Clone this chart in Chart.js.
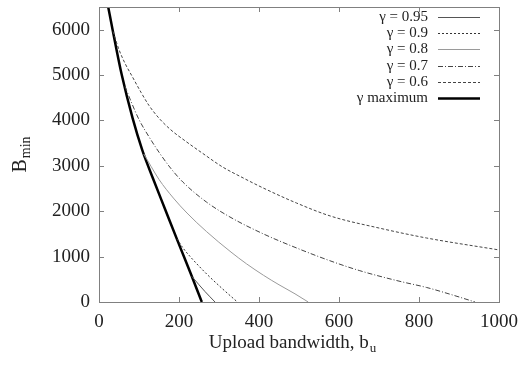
<!DOCTYPE html>
<html>
<head>
<meta charset="utf-8">
<script src="https://cdn.jsdelivr.net/npm/chart.js@4"></script>
<style>
  body { margin: 0; background: #fff; }
  canvas { display: block; }
</style>
</head>
<body>
<canvas id="bmin_chart" width="521" height="367"></canvas>
<script>
// upload bandwidth b_u (x) and B_min (y) for each gamma curve
const bu_max = [23, 34, 57, 84, 108, 135, 165, 200, 230, 257];
const bmin_max = [6500, 6000, 5000, 4050, 3350, 2720, 2050, 1270, 610, 0];

const bu_095 = [232, 250, 265, 290];
const bmin_095 = [564, 380, 230, 0];

const bu_09 = [195, 210, 230, 250, 270, 310, 346];
const bmin_09 = [1390, 1190, 980, 790, 610, 280, 0];

const bu_08 = [112, 130, 150, 186, 220, 269, 330, 369, 411, 450, 490, 523];
const bmin_08 = [3260, 2990, 2700, 2290, 1960, 1550, 1100, 840, 590, 380, 180, 0];

const bu_07 = [65, 80, 100, 125, 150, 179, 210, 269, 330, 411, 494, 577, 652, 750, 819, 880, 940];
const bmin_07 = [4750, 4420, 4020, 3640, 3300, 2950, 2640, 2200, 1860, 1500, 1190, 910, 690, 460, 320, 165, 0];

const bu_06 = [35, 50, 65, 83, 105, 125, 150, 180, 217, 260, 308, 360, 411, 494, 580, 700, 819, 1000];
const bmin_06 = [5960, 5560, 5260, 4970, 4620, 4330, 4050, 3790, 3540, 3270, 2980, 2735, 2510, 2180, 1890, 1630, 1410, 1147];

const x_ticks = [0, 200, 400, 600, 800, 1000];
const y_ticks = [0, 1000, 2000, 3000, 4000, 5000, 6000];

const serif = '"Liberation Serif", "DejaVu Serif", serif';

function pts(xs, ys) {
    return xs.map((x, i) => ({x: x, y: ys[i]}));
}

function curve(label, xs, ys, color, width, dash) {
    return {
        label: label,
        data: pts(xs, ys),
        borderColor: color,
        borderWidth: width,
        borderDash: dash,
        pointRadius: 0,
        fill: false,
        cubicInterpolationMode: 'monotone'
    };
}

// frame with inward ticks on all four sides
const framePlugin = {
    id: 'frame',
    afterDatasetsDraw(chart) {
        const ctx = chart.ctx;
        const a = chart.chartArea;
        const xs = chart.scales.x, ys = chart.scales.y;
        ctx.save();
        ctx.strokeStyle = '#808080';
        ctx.lineWidth = 1;
        ctx.strokeRect(a.left + 0.5, a.top + 0.5, a.right - a.left, a.bottom - a.top);
        ctx.beginPath();
        x_ticks.forEach(v => {
            const px = Math.round(xs.getPixelForValue(v)) + 0.5;
            ctx.moveTo(px, a.bottom); ctx.lineTo(px, a.bottom - 5);
            ctx.moveTo(px, a.top); ctx.lineTo(px, a.top + 5);
        });
        y_ticks.forEach(v => {
            const py = Math.round(ys.getPixelForValue(v)) + 0.5;
            ctx.moveTo(a.left, py); ctx.lineTo(a.left + 5, py);
            ctx.moveTo(a.right, py); ctx.lineTo(a.right - 5, py);
        });
        ctx.stroke();

        // axis titles with subscripts
        ctx.fillStyle = '#222';
        ctx.textBaseline = 'alphabetic';
        const main = 'Upload bandwidth, b';
        ctx.font = '19px ' + serif;
        const w1 = ctx.measureText(main).width;
        ctx.font = '13px ' + serif;
        const w2 = ctx.measureText('u').width;
        const x0 = 292 - (w1 + w2) / 2;
        ctx.font = '19px ' + serif;
        ctx.textAlign = 'left';
        ctx.fillText(main, x0, 348);
        ctx.font = '13px ' + serif;
        ctx.fillText('u', x0 + w1 + 1, 352);

        ctx.translate(26, 155);
        ctx.rotate(-Math.PI / 2);
        ctx.font = '20px ' + serif;
        const wb = ctx.measureText('B').width;
        ctx.font = '14px ' + serif;
        const wm = ctx.measureText('min').width;
        const s = -(wb + wm) / 2;
        ctx.font = '20px ' + serif;
        ctx.fillText('B', s, 0);
        ctx.font = '14px ' + serif;
        ctx.fillText('min', s + wb + 1, 4);
        ctx.restore();
    }
};

// legend: right aligned label then a line sample
const keyPlugin = {
    id: 'key',
    afterDatasetsDraw(chart) {
        const ctx = chart.ctx;
        ctx.save();
        ctx.font = '15px ' + serif;
        ctx.fillStyle = '#222';
        ctx.textAlign = 'right';
        ctx.textBaseline = 'middle';
        chart.data.datasets.forEach((ds, i) => {
            const y = 17 + i * 16.2;
            ctx.fillText(ds.label, 428, y);
            ctx.beginPath();
            ctx.strokeStyle = ds.borderColor;
            ctx.lineWidth = ds.borderWidth;
            ctx.setLineDash(ds.borderDash || []);
            ctx.moveTo(438, Math.round(y) + 0.5);
            ctx.lineTo(480, Math.round(y) + 0.5);
            ctx.stroke();
        });
        ctx.restore();
    }
};

new Chart(document.getElementById('bmin_chart'), {
    type: 'line',
    data: {
        datasets: [
            curve('γ = 0.95', bu_095, bmin_095, '#555', 1, []),
            curve('γ = 0.9', bu_09, bmin_09, '#333', 1, [2, 2]),
            curve('γ = 0.8', bu_08, bmin_08, '#9a9a9a', 1, []),
            curve('γ = 0.7', bu_07, bmin_07, '#444', 1, [5, 2, 1, 2]),
            curve('γ = 0.6', bu_06, bmin_06, '#444', 1, [3, 2]),
            curve('γ maximum', bu_max, bmin_max, '#000', 2.5, [])
        ]
    },
    options: {
        responsive: false,
        animation: false,
        layout: { padding: { top: 7, right: 22, left: 0, bottom: 0 } },
        plugins: { legend: { display: false }, tooltip: { enabled: false } },
        scales: {
            x: {
                type: 'linear',
                min: 0,
                max: 1000,
                grid: { display: false, drawTicks: false },
                border: { display: false },
                ticks: {
                    stepSize: 200, color: '#222', padding: 9,
                    font: { family: serif, size: 19 },
                    callback: v => String(v)
                },
                afterFit(scale) {
                    scale.height = 65;
                    scale.paddingLeft = 0;
                    scale.paddingRight = 0;
                }
            },
            y: {
                type: 'linear',
                min: 0,
                max: 6500,
                grid: { display: false, drawTicks: false },
                border: { display: false },
                ticks: {
                    color: '#222', padding: 9,
                    font: { family: serif, size: 19 },
                    callback: v => String(v)
                },
                afterBuildTicks(scale) {
                    scale.ticks = y_ticks.map(v => ({ value: v }));
                },
                afterFit(scale) {
                    scale.width = 99;
                    scale.paddingTop = 0;
                    scale.paddingBottom = 0;
                }
            }
        }
    },
    plugins: [framePlugin, keyPlugin]
});
</script>
</body>
</html>
